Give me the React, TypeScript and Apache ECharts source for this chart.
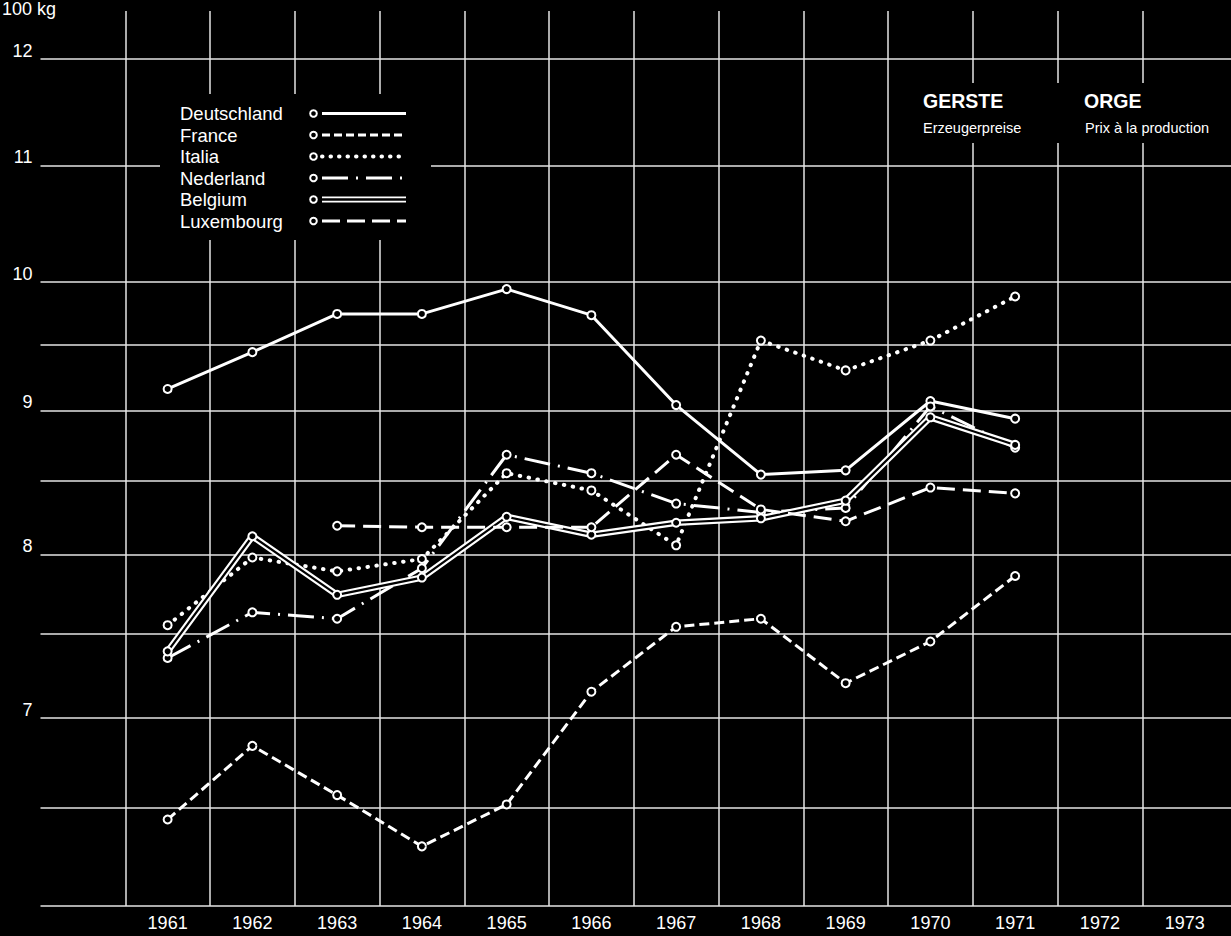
import React, { useEffect, useRef } from "react";
import * as echarts from "echarts";

const FONT = "'Liberation Sans', Arial, Helvetica, sans-serif";

// Data (prices per 100 kg)
const years = [1961, 1962, 1963, 1964, 1965, 1966, 1967, 1968, 1969, 1970, 1971];
const axisYears = [1961, 1962, 1963, 1964, 1965, 1966, 1967, 1968, 1969, 1970, 1971, 1972, 1973];
const deutschland = [9.16, 9.44, 9.74, 9.74, 9.94, 9.73, 9.04, 8.54, 8.57, 9.07, 8.94];
const france = [6.44, 6.84, 6.57, 6.3, 6.52, 7.15, 7.54, 7.59, 7.2, 7.45, 7.86];
const italia = [7.55, 7.98, 7.89, 7.97, 8.55, 8.43, 8.06, 9.53, 9.3, 9.53, 9.88];
const nederland = [7.35, 7.63, 7.59, 7.91, 8.68, 8.55, 8.34, 8.28, 8.31, 9.03, 8.73];
const belgium = [7.39, 8.12, 7.74, 7.85, 8.25, 8.13, 8.21, 8.24, 8.36, 8.95, 8.75];
const luxembourg = [null, null, 8.19, 8.18, 8.18, 8.18, 8.68, 8.3, 8.22, 8.45, 8.41];

const gridValues = [6, 6.5, 7, 7.5, 8, 8.5, 9, 9.5, 10, 11, 12];
const labelValues = [7, 8, 9, 10, 11, 12];
const yearBoundaries = [1960.5, 1961.5, 1962.5, 1963.5, 1964.5, 1965.5, 1966.5, 1967.5, 1968.5, 1969.5, 1970.5, 1971.5, 1972.5];

const legendNames = ["Deutschland", "France", "Italia", "Nederland", "Belgium", "Luxembourg"];

const toPairs = (vals: (number | null)[]) => years.map((y, i) => [y, vals[i]]);

const WHITE = "#ffffff";
const GRIDC = "#e4e4e4";

const symbolStyle = { color: "#000", borderColor: WHITE, borderWidth: 2 };

function lineSeries(name: string, vals: (number | null)[], lineStyle: any, extra: any = {}) {
  return {
    name,
    type: "line",
    data: toPairs(vals),
    symbol: "circle",
    symbolSize: 8,
    itemStyle: symbolStyle,
    lineStyle: { color: WHITE, width: 3, ...lineStyle },
    z: 3,
    silent: true,
    ...extra,
  };
}

export default function App() {
  const ref = useRef<HTMLDivElement>(null);

  useEffect(() => {
    if (!ref.current) return;
    const chart = echarts.init(ref.current, null, { renderer: "svg" });

    const legendY0 = 113.5;
    const legendDy = 21.5;
    const legendStyles: any[] = [
      { lineDash: null },
      { lineDash: [8, 4] },
      { lineDash: [0.5, 8], lineCap: "round", lineWidth: 4 },
      { lineDash: [26, 8, 2, 8] },
      { double: true },
      { lineDash: [18, 7] },
    ];

    const legendGraphics: any[] = [];
    legendNames.forEach((n, i) => {
      const y = legendY0 + i * legendDy;
      legendGraphics.push({
        type: "text",
        z: 11,
        style: { text: n, x: 180, y, fill: WHITE, fontSize: 18.5, fontFamily: FONT, verticalAlign: "middle", align: "left" },
      });
      legendGraphics.push({
        type: "circle",
        z: 11,
        shape: { cx: 313.5, cy: y, r: 3.3 },
        style: { fill: "#000", stroke: WHITE, lineWidth: 2 },
      });
      const st = legendStyles[i];
      if (st.double) {
        [-2.2, 2.2].forEach((dy) =>
          legendGraphics.push({
            type: "line",
            z: 11,
            shape: { x1: 322, y1: y + dy, x2: 406, y2: y + dy },
            style: { stroke: WHITE, lineWidth: 1.8 },
          })
        );
      } else {
        legendGraphics.push({
          type: "line",
          z: 11,
          shape: { x1: 322, y1: y, x2: 406, y2: y },
          style: {
            stroke: WHITE,
            lineWidth: st.lineWidth || 3,
            lineDash: st.lineDash || undefined,
            lineCap: st.lineCap || "butt",
          },
        });
      }
    });

    const hLines: any[] = gridValues.map((v) => ({
      yAxis: v,
      label: labelValues.includes(v) ? { show: true, formatter: String(v) } : { show: false },
    }));
    const vLines: any[] = yearBoundaries.map((v) => ({ xAxis: v, label: { show: false } }));

    const markLineBase = {
      silent: true,
      z: 1,
      symbol: ["none", "none"],
      animation: false,
      emphasis: { disabled: true },
    };

    const option: any = {
      animation: false,
      backgroundColor: "#000",
      textStyle: { fontFamily: FONT },
      grid: { left: 40.5, right: 0, top: 11, bottom: 30, containLabel: false },
      xAxis: {
        type: "value",
        min: 1959.5,
        max: 1973.547,
        axisLine: { show: false },
        axisTick: { show: false },
        splitLine: { show: false },
        axisLabel: {
          customValues: axisYears,
          formatter: (v: number) => String(v),
          color: WHITE,
          fontSize: 18,
          fontFamily: FONT,
          margin: 8,
        },
      },
      yAxis: {
        type: "log",
        logBase: 10,
        min: 6,
        max: 12.48,
        axisLine: { show: false },
        axisTick: { show: false },
        axisLabel: { show: false },
        splitLine: { show: false },
      },
      series: [
        {
          ...lineSeries("Deutschland", deutschland, { type: "solid" }),
          markLine: {
            ...markLineBase,
            lineStyle: { color: GRIDC, width: 1.5, type: "solid" },
            label: {
              show: true,
              position: "start",
              distance: 8,
              color: WHITE,
              fontSize: 18,
              fontFamily: FONT,
              verticalAlign: "bottom",
              lineHeight: 16,
            },
            data: hLines,
          },
        },
        {
          ...lineSeries("France", france, { type: [10, 5] }),
          markLine: {
            ...markLineBase,
            lineStyle: { color: GRIDC, width: 1.5, type: "solid" },
            label: { show: false },
            data: vLines,
          },
        },
        lineSeries("Italia", italia, { type: [0.5, 8.5], width: 4, cap: "round" }),
        lineSeries("Nederland", nederland, { type: [26, 8, 2, 8] }),
        {
          name: "Belgium",
          type: "line",
          data: toPairs(belgium),
          symbol: "none",
          lineStyle: { color: WHITE, width: 6.5, type: "solid" },
          z: 3,
          silent: true,
        },
        {
          name: "Belgium ",
          type: "line",
          data: toPairs(belgium),
          symbol: "circle",
          symbolSize: 8,
          itemStyle: symbolStyle,
          lineStyle: { color: "#000", width: 2.2, type: "solid" },
          z: 3,
          silent: true,
        },
        lineSeries("Luxembourg", luxembourg, { type: [18, 8] }),
      ],
      graphic: [
        { type: "rect", z: 10, shape: { x: 160, y: 94, width: 271, height: 146 }, style: { fill: "#000" } },
        { type: "rect", z: 10, shape: { x: 905, y: 83, width: 326, height: 60 }, style: { fill: "#000" } },
        ...legendGraphics,
        {
          type: "text",
          z: 11,
          style: { text: "100 kg", x: 2, y: 0, align: "left", verticalAlign: "top", fill: WHITE, fontSize: 18, fontFamily: FONT },
        },
        {
          type: "text",
          z: 11,
          style: { text: "GERSTE", x: 923, y: 101, verticalAlign: "middle", fill: WHITE, fontSize: 19.5, fontWeight: "bold", fontFamily: FONT },
        },
        {
          type: "text",
          z: 11,
          style: { text: "Erzeugerpreise", x: 923, y: 128, verticalAlign: "middle", fill: WHITE, fontSize: 14.5, fontFamily: FONT },
        },
        {
          type: "text",
          z: 11,
          style: { text: "ORGE", x: 1084, y: 101, verticalAlign: "middle", fill: WHITE, fontSize: 19.5, fontWeight: "bold", fontFamily: FONT },
        },
        {
          type: "text",
          z: 11,
          style: { text: "Prix à la production", x: 1085, y: 128, verticalAlign: "middle", fill: WHITE, fontSize: 14.5, fontFamily: FONT },
        },
      ],
    };

    chart.setOption(option);
    return () => chart.dispose();
  }, []);

  return (
    <div
      ref={ref}
      style={{ position: "fixed", left: 0, top: 0, width: 1231, height: 936, background: "#000" }}
    />
  );
}
